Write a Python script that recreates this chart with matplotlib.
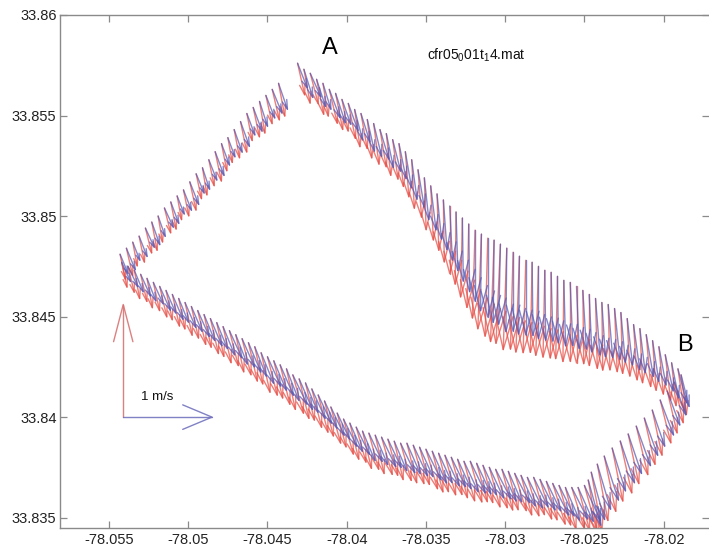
import numpy as np
import matplotlib
matplotlib.use('Agg')
import matplotlib.pyplot as plt
from matplotlib.collections import LineCollection

plt.rcParams['font.family'] = ['Liberation Sans', 'DejaVu Sans']
plt.rcParams['mathtext.fontset'] = 'custom'
plt.rcParams['mathtext.rm'] = 'Liberation Sans'
plt.rcParams['mathtext.it'] = 'Liberation Sans'

# ---------------- data ----------------
# Ship track positions (arrow tails), segment A -> B
lon_ne = [-78.0431, -78.0427, -78.0423, -78.0419, -78.0415, -78.0411, -78.0407, -78.0403, -78.0399,
          -78.0395, -78.0391, -78.0387, -78.0383, -78.0379, -78.0375, -78.0371, -78.0367,
          -78.0363, -78.0359, -78.0355, -78.0351, -78.0347, -78.0343,
          -78.0339, -78.0335, -78.0331, -78.0327, -78.0323, -78.0319,
          -78.0315, -78.0311, -78.0307, -78.0303, -78.0299, -78.0295, -78.0291,
          -78.0287, -78.0283, -78.0279, -78.0275, -78.0271, -78.0267, -78.0263, -78.0259, -78.0255,
          -78.0251, -78.0247, -78.0243, -78.0239, -78.0235, -78.0231, -78.0227,
          -78.0223, -78.0219, -78.0215, -78.0211, -78.0207,
          -78.0203, -78.0199, -78.0195, -78.0191, -78.0189]
lat_ne = [33.8576, 33.8573, 33.8571, 33.8568, 33.8566, 33.8563, 33.8561, 33.8558, 33.8556,
          33.8553, 33.8551, 33.8548, 33.8546, 33.8543, 33.8541, 33.8538, 33.8536,
          33.8532, 33.8528, 33.8523, 33.8519, 33.8515, 33.8511,
          33.8508, 33.8505, 33.8502, 33.8499, 33.8496, 33.8493,
          33.8491, 33.8489, 33.8488, 33.8486, 33.8484, 33.8482, 33.8480,
          33.8478, 33.8477, 33.8475, 33.8473, 33.8472, 33.8470, 33.8468, 33.8467, 33.8465,
          33.8463, 33.8461, 33.8459, 33.8457, 33.8456, 33.8454, 33.8452,
          33.8449, 33.8446, 33.8444, 33.8441, 33.8438,
          33.8435, 33.8431, 33.8427, 33.8424, 33.8421]
ured_ne = [0.08, 0.07, 0.09, 0.08, 0.06, 0.09, 0.08, 0.07, 0.08,
           0.06, 0.07, 0.05, 0.06, 0.07, 0.05, 0.06, 0.05,
           0.04, 0.03, 0.04, 0.02, 0.03, 0.02,
           0.01, 0.00, -0.01, -0.02, -0.02, -0.03,
           -0.04, -0.03, -0.04, -0.05, -0.04, -0.03, -0.04,
           -0.03, -0.02, -0.03, -0.02, -0.01, -0.02, -0.01, 0.00, 0.00,
           0.01, 0.00, 0.02, 0.01, 0.02, 0.03, 0.02,
           0.03, 0.04, 0.03, 0.05, 0.04,
           0.05, 0.06, 0.05, 0.07, 0.06]
vred_ne = [-0.28, -0.30, -0.27, -0.31, -0.29, -0.30, -0.32, -0.28, -0.31,
           -0.33, -0.31, -0.34, -0.36, -0.33, -0.37, -0.35, -0.38,
           -0.40, -0.43, -0.42, -0.46, -0.48, -0.50,
           -0.55, -0.60, -0.64, -0.70, -0.74, -0.78,
           -0.84, -0.87, -0.90, -0.88, -0.90, -0.86, -0.85,
           -0.82, -0.80, -0.79, -0.77, -0.76, -0.73, -0.72, -0.70, -0.68,
           -0.65, -0.63, -0.62, -0.60, -0.58, -0.56, -0.54,
           -0.51, -0.49, -0.48, -0.46, -0.44,
           -0.42, -0.40, -0.38, -0.37, -0.35]
ublu_ne = [0.11, 0.10, 0.12, 0.10, 0.09, 0.12, 0.11, 0.10, 0.11,
           0.09, 0.10, 0.08, 0.09, 0.10, 0.08, 0.09, 0.08,
           0.07, 0.06, 0.07, 0.05, 0.06, 0.05,
           0.04, 0.03, 0.02, 0.01, 0.01, 0.00,
           -0.01, 0.00, -0.01, -0.02, -0.01, 0.00, -0.01,
           0.00, 0.01, 0.00, 0.01, 0.02, 0.01, 0.02, 0.03, 0.03,
           0.04, 0.03, 0.05, 0.04, 0.05, 0.06, 0.05,
           0.06, 0.07, 0.06, 0.08, 0.07,
           0.08, 0.09, 0.08, 0.10, 0.09]
vblu_ne = [-0.22, -0.25, -0.21, -0.24, -0.23, -0.25, -0.26, -0.22, -0.24,
           -0.27, -0.25, -0.28, -0.29, -0.26, -0.30, -0.28, -0.31,
           -0.32, -0.35, -0.33, -0.37, -0.39, -0.40,
           -0.44, -0.48, -0.52, -0.56, -0.60, -0.63,
           -0.68, -0.70, -0.73, -0.71, -0.74, -0.70, -0.69,
           -0.66, -0.65, -0.64, -0.62, -0.61, -0.59, -0.58, -0.56, -0.55,
           -0.52, -0.51, -0.50, -0.48, -0.47, -0.45, -0.44,
           -0.41, -0.40, -0.39, -0.37, -0.36,
           -0.34, -0.32, -0.31, -0.30, -0.28]

# Segment B -> south-east corner
lon_se = [-78.01933, -78.01977, -78.02022, -78.02072, -78.02122, -78.02173, -78.02224,
          -78.02274, -78.02325, -78.02375, -78.02419, -78.02457, -78.02476]
lat_se = [33.84174, 33.84129, 33.84085, 33.84035, 33.83995, 33.83955, 33.83916,
          33.83881, 33.83846, 33.83806, 33.83766, 33.83726, 33.83687]
ured_se = [0.10, 0.11, 0.12, 0.11, 0.12, 0.13, 0.12, 0.13, 0.12, 0.13, 0.12, 0.12, 0.11]
vred_se = [-0.36, -0.37, -0.38, -0.40, -0.41, -0.43, -0.44, -0.46, -0.47, -0.49, -0.50, -0.52, -0.50]
ublu_se = [0.13, 0.14, 0.15, 0.14, 0.15, 0.16, 0.15, 0.16, 0.15, 0.16, 0.15, 0.15, 0.14]
vblu_se = [-0.29, -0.30, -0.31, -0.32, -0.33, -0.35, -0.35, -0.37, -0.38, -0.39, -0.40, -0.42, -0.40]

# Segment south-east corner -> west corner
lon_bt = [-78.0250, -78.0254, -78.0258, -78.0262, -78.0266, -78.0270, -78.0274, -78.0278, -78.0282, -78.0286,
          -78.0290, -78.0294, -78.0298, -78.0302, -78.0306, -78.0310, -78.0314, -78.0318, -78.0322, -78.0326,
          -78.0330, -78.0334,
          -78.0338, -78.0342, -78.0346, -78.0350, -78.0354, -78.0358, -78.0362, -78.0366, -78.0370, -78.0374,
          -78.0378, -78.0382, -78.0386, -78.0390, -78.0394, -78.0398, -78.0402,
          -78.0406, -78.0410, -78.0414, -78.0418,
          -78.0422, -78.0426, -78.0430, -78.0434, -78.0438, -78.0442, -78.0446, -78.0450, -78.0454, -78.0458,
          -78.0462,
          -78.0466, -78.0470, -78.0474, -78.0478, -78.0482, -78.0486, -78.0490, -78.0494, -78.0498,
          -78.0502, -78.0506, -78.0510, -78.0514, -78.0518, -78.0522, -78.0526, -78.0530, -78.0534, -78.0538,
          -78.0542]
lat_bt = [33.8366, 33.8365, 33.8365, 33.8365, 33.8366, 33.8367, 33.8368, 33.8369, 33.8370, 33.8370,
          33.8371, 33.8372, 33.8373, 33.8374, 33.8374, 33.8375, 33.8376, 33.8377, 33.8378, 33.8378,
          33.8379, 33.8380,
          33.8381, 33.8382, 33.8383, 33.8384, 33.8385, 33.8386, 33.8387, 33.8387, 33.8388, 33.8389,
          33.8390, 33.8391, 33.8392, 33.8393, 33.8395, 33.8397, 33.8399,
          33.8402, 33.8405, 33.8408, 33.8411,
          33.8414, 33.8417, 33.8419, 33.8421, 33.8424, 33.8426, 33.8428, 33.8430, 33.8432, 33.8435,
          33.8437,
          33.8439, 33.8441, 33.8443, 33.8445, 33.8447, 33.8449, 33.8451, 33.8453, 33.8455,
          33.8457, 33.8459, 33.8461, 33.8463, 33.8465, 33.8467, 33.8469, 33.8471, 33.8473, 33.8475,
          33.8477]
ured_bt = [0.14, 0.13, 0.14, 0.12, 0.13, 0.14, 0.12, 0.13, 0.12, 0.13,
           0.12, 0.13, 0.11, 0.12, 0.13, 0.12, 0.11, 0.12, 0.13, 0.12, 0.11, 0.12,
           0.12, 0.11, 0.12, 0.13, 0.11, 0.12, 0.11, 0.12, 0.10, 0.11, 0.12, 0.10, 0.11, 0.10, 0.11, 0.10, 0.11,
           0.10, 0.11, 0.10, 0.11,
           0.11, 0.10, 0.11, 0.12, 0.10, 0.11, 0.10, 0.11, 0.10, 0.09, 0.10,
           0.10, 0.09, 0.10, 0.09, 0.08, 0.09, 0.08, 0.09, 0.08,
           0.08, 0.07, 0.08, 0.07, 0.08, 0.07, 0.06, 0.07, 0.06, 0.07, 0.06]
vred_bt = [-0.40, -0.38, -0.36, -0.37, -0.35, -0.36, -0.34, -0.35, -0.33, -0.34,
           -0.35, -0.33, -0.34, -0.36, -0.34, -0.35, -0.33, -0.34, -0.36, -0.35, -0.34, -0.33,
           -0.35, -0.34, -0.36, -0.35, -0.33, -0.34, -0.35, -0.33, -0.34, -0.32, -0.33, -0.34, -0.32, -0.33,
           -0.31, -0.32, -0.31,
           -0.30, -0.32, -0.31, -0.33,
           -0.34, -0.33, -0.35, -0.34, -0.36, -0.35, -0.33, -0.34, -0.35, -0.33, -0.34,
           -0.32, -0.33, -0.31, -0.32, -0.30, -0.31, -0.29, -0.30, -0.28,
           -0.29, -0.27, -0.28, -0.26, -0.27, -0.25, -0.26, -0.24, -0.25, -0.23, -0.22]
ublu_bt = [0.18, 0.17, 0.18, 0.16, 0.17, 0.18, 0.16, 0.17, 0.16, 0.17,
           0.16, 0.17, 0.15, 0.16, 0.17, 0.16, 0.15, 0.16, 0.17, 0.16, 0.15, 0.16,
           0.16, 0.15, 0.16, 0.17, 0.15, 0.16, 0.15, 0.16, 0.14, 0.15, 0.16, 0.14, 0.15, 0.14, 0.15, 0.14, 0.15,
           0.14, 0.15, 0.14, 0.15,
           0.15, 0.14, 0.15, 0.16, 0.14, 0.15, 0.14, 0.15, 0.14, 0.13, 0.14,
           0.14, 0.13, 0.14, 0.13, 0.12, 0.13, 0.12, 0.13, 0.12,
           0.12, 0.11, 0.12, 0.11, 0.12, 0.11, 0.10, 0.11, 0.10, 0.11, 0.10]
vblu_bt = [-0.31, -0.30, -0.28, -0.29, -0.27, -0.28, -0.26, -0.27, -0.26, -0.27,
           -0.27, -0.26, -0.27, -0.28, -0.26, -0.27, -0.26, -0.27, -0.28, -0.27, -0.26, -0.26,
           -0.27, -0.26, -0.28, -0.27, -0.26, -0.27, -0.27, -0.26, -0.26, -0.25, -0.26, -0.26, -0.25, -0.26,
           -0.24, -0.25, -0.24,
           -0.23, -0.25, -0.24, -0.25,
           -0.26, -0.26, -0.27, -0.26, -0.28, -0.27, -0.26, -0.26, -0.27, -0.26, -0.26,
           -0.25, -0.26, -0.24, -0.25, -0.23, -0.24, -0.23, -0.23, -0.22,
           -0.22, -0.21, -0.22, -0.20, -0.21, -0.19, -0.20, -0.19, -0.19, -0.18, -0.17]

# Segment west corner -> A
lon_nw = [-78.0543, -78.0539, -78.0535, -78.0531, -78.0527, -78.0523, -78.0519, -78.0515, -78.0511, -78.0507,
          -78.0503, -78.0499, -78.0495, -78.0491, -78.0487, -78.0483, -78.0479, -78.0475, -78.0471, -78.0467,
          -78.0463, -78.0459, -78.0455, -78.0451, -78.0447, -78.0443]
lat_nw = [33.8481, 33.8484, 33.8487, 33.8490, 33.8494, 33.8497, 33.8500, 33.8504, 33.8507, 33.8510,
          33.8513, 33.8517, 33.8521, 33.8524, 33.8528, 33.8532, 33.8536, 33.8539, 33.8543, 33.8547,
          33.8551, 33.8554, 33.8557, 33.8560, 33.8563, 33.8566]
ured_nw = [0.06, 0.07, 0.05, 0.06, 0.07, 0.06, 0.05, 0.07, 0.06, 0.05,
           0.06, 0.07, 0.06, 0.05, 0.06, 0.07, 0.06, 0.05, 0.06, 0.07,
           0.06, 0.07, 0.06, 0.07, 0.08, 0.07]
vred_nw = [-0.22, -0.24, -0.21, -0.23, -0.22, -0.25, -0.23, -0.22, -0.24, -0.21,
           -0.23, -0.25, -0.22, -0.24, -0.23, -0.26, -0.24, -0.22, -0.25, -0.27,
           -0.24, -0.26, -0.28, -0.25, -0.27, -0.29]
ublu_nw = [0.09, 0.10, 0.08, 0.09, 0.10, 0.09, 0.08, 0.10, 0.09, 0.08,
           0.09, 0.10, 0.09, 0.08, 0.09, 0.10, 0.09, 0.08, 0.09, 0.10,
           0.09, 0.10, 0.09, 0.10, 0.11, 0.10]
vblu_nw = [-0.17, -0.19, -0.16, -0.18, -0.17, -0.20, -0.18, -0.17, -0.19, -0.16,
           -0.18, -0.20, -0.17, -0.19, -0.18, -0.21, -0.19, -0.17, -0.20, -0.22,
           -0.19, -0.21, -0.22, -0.20, -0.21, -0.23]

# Scale-key arrows (1 m/s)
key_lon, key_lat = -78.0541, 33.8400
key_red_uv = (0.0, 1.0)
key_blue_uv = (1.0, 0.0)

xticks = [-78.055, -78.05, -78.045, -78.04, -78.035, -78.03, -78.025, -78.02]
xticklabels = ['-78.055', '-78.05', '-78.045', '-78.04', '-78.035', '-78.03', '-78.025', '-78.02']
yticks = [33.835, 33.84, 33.845, 33.85, 33.855, 33.86]
yticklabels = ['33.835', '33.84', '33.845', '33.85', '33.855', '33.86']

# ---------------- plotting ----------------
lon = np.array(lon_ne + lon_se + lon_bt + lon_nw)
lat = np.array(lat_ne + lat_se + lat_bt + lat_nw)
u_red = np.array(ured_ne + ured_se + ured_bt + ured_nw)
v_red = np.array(vred_ne + vred_se + vred_bt + vred_nw)
u_blu = np.array(ublu_ne + ublu_se + ublu_bt + ublu_nw)
v_blu = np.array(vblu_ne + vblu_se + vblu_bt + vblu_nw)

K = 0.0056   # degrees per (m/s) : quiver scale
ALPHA, BETA = 0.33, 0.33   # MATLAB quiver head geometry


def matlab_quiver(ax, x, y, u, v, color, lw=1.0, alpha=0.72, zorder=2):
    x = np.atleast_1d(np.asarray(x, float)); y = np.atleast_1d(np.asarray(y, float))
    U = np.atleast_1d(np.asarray(u, float)) * K
    V = np.atleast_1d(np.asarray(v, float)) * K
    tx, ty = x + U, y + V
    h1x = tx - ALPHA * (U + BETA * V); h1y = ty - ALPHA * (V - BETA * U)
    h2x = tx - ALPHA * (U - BETA * V); h2y = ty - ALPHA * (V + BETA * U)
    segs = []
    for i in range(len(x)):
        segs.append([(x[i], y[i]), (tx[i], ty[i])])
        segs.append([(h1x[i], h1y[i]), (tx[i], ty[i]), (h2x[i], h2y[i])])
    lc = LineCollection(segs, colors=color, linewidths=lw, alpha=alpha, zorder=zorder,
                        capstyle='round', joinstyle='round')
    ax.add_collection(lc)


W, H = 709, 550
fig = plt.figure(figsize=(W / 100, H / 100), dpi=100)
ax = fig.add_axes([60 / W, (H - 527.7) / H, 1 - 60 / W, (527.7 - 15) / H])

RED = (0.90, 0.30, 0.27)
BLUE = (0.35, 0.35, 0.70)

matlab_quiver(ax, lon, lat, u_red, v_red, RED, zorder=2)
matlab_quiver(ax, lon, lat, u_blu, v_blu, BLUE, zorder=3)

matlab_quiver(ax, key_lon, key_lat, key_red_uv[0], key_red_uv[1], (0.85, 0.45, 0.45), lw=1.0, alpha=0.9)
matlab_quiver(ax, key_lon, key_lat, key_blue_uv[0], key_blue_uv[1], (0.45, 0.45, 0.75), lw=1.0, alpha=0.9)

ax.text(-78.05298, 33.84100, '1 m/s', fontsize=9.5, ha='left', va='center', color='#111111')
ax.text(-78.03492, 33.85801, r'cfr05$_0$01t$_1$4.mat', fontsize=10, ha='left', va='center',
        color='#111111')
ax.text(-78.04105, 33.85836, 'A', fontsize=17, ha='center', va='center', color='black')
ax.text(-78.01864, 33.84358, 'B', fontsize=17, ha='center', va='center', color='black')

ax.set_xlim(-78.05809, -78.01714)
ax.set_ylim(33.83450, 33.86)
ax.set_xticks(xticks)
ax.set_xticklabels(xticklabels)
ax.set_yticks(yticks)
ax.set_yticklabels(yticklabels)

GRAY = '#8a8a8a'
for side, sp in ax.spines.items():
    sp.set_color(GRAY)
    sp.set_linewidth(1.0)
ax.spines['right'].set_visible(False)
ax.tick_params(axis='both', which='both', direction='in', length=5, width=0.9, color=GRAY,
               top=True, right=True, labelsize=10.5, labelcolor='#222222')
ax.tick_params(axis='x', pad=4)
ax.tick_params(axis='y', pad=2.5)

fig.savefig('out.png', dpi=100)
